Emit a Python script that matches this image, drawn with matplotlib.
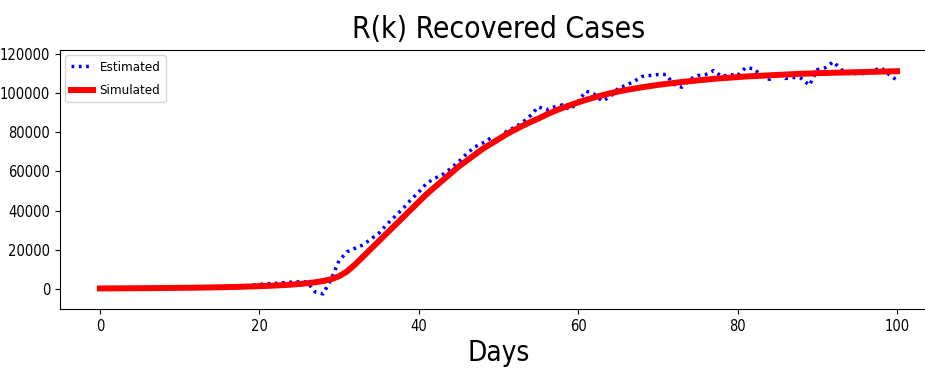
# R(k) recovered cases: estimated vs simulated over 100 days
import numpy as np
import matplotlib.pyplot as plt

plt.rcParams['font.family'] = 'DejaVu Sans'
plt.rcParams['font.stretch'] = 'condensed'

days = np.arange(0, 101)

# estimated recovered cases per day
estimated = [
    500, 450, 550, 500, 600, 550, 650, 700, 650, 800,
    750, 900, 850, 1000, 1100, 1050, 1300, 1400, 1600, 2000,
    2400, 2700, 2900, 3200, 3500, 3700, 3600, -1500, -2500, 5000,
    14500, 19000, 20800, 22500, 25500, 28500, 33000, 37000, 41000, 45500,
    49500, 54000, 56500, 58500, 61500, 65000, 69000, 72500, 74500, 77000,
    75500, 80500, 82500, 85000, 88500, 93000, 91500, 93000, 94000, 91500,
    96000, 101000, 99500, 96000, 98000, 102500, 104000, 106000, 108500, 109000,
    109500, 109500, 104500, 103000, 107000, 109000, 109500, 111500, 108500, 109500,
    109000, 113000, 112500, 109000, 107000, 110500, 107500, 108000, 107500, 104000,
    112000, 113000, 116000, 112000, 110000, 110000, 110000, 111500, 113000, 109500,
    106500,
]

# simulated recovered cases per day
simulated = [
    300, 320, 340, 360, 390, 420, 450, 480, 520, 560,
    600, 650, 700, 760, 820, 900, 980, 1070, 1180, 1300,
    1450, 1600, 1800, 2000, 2250, 2550, 2950, 3450, 4100, 5000,
    6500, 9000, 12500, 16500, 20500, 24500, 28500, 32500, 36500, 40500,
    44500, 48500, 52000, 55500, 59000, 62500, 65500, 68500, 71500, 74000,
    76500, 79000, 81200, 83300, 85200, 87000, 89000, 90800, 92400, 93900,
    95300, 96600, 97800, 98900, 99900, 100800, 101600, 102300, 103000, 103600,
    104200, 104700, 105200, 105700, 106100, 106500, 106900, 107300, 107600, 107900,
    108200, 108500, 108700, 108900, 109100, 109300, 109500, 109700, 109900, 110000,
    110200, 110300, 110400, 110500, 110600, 110700, 110800, 110900, 111000, 111100,
    111200,
]

fig = plt.figure(figsize=(9.25, 3.71), dpi=100)
ax = fig.add_axes([0.0649, 0.1671, 0.948, 0.698])

ax.plot(days, estimated, color='blue', linestyle=(0, (0.8, 1.3)), linewidth=2.5,
        label='Estimated')
ax.plot(days, simulated, color='red', linewidth=4.3, label='Simulated')

ax.set_xlim(-5, 105)
ax.set_ylim(-10200, 122000)
ax.set_yticks([0, 20000, 40000, 60000, 80000, 100000, 120000])
ax.set_xticks([0, 20, 40, 60, 80, 100])
ax.tick_params(labelsize=10.5)

ax.set_title('R(k) Recovered Cases', fontsize=21.5, pad=9)
ax.set_xlabel('Days', fontsize=20)
ax.legend(loc='upper left', fontsize=9.5, handlelength=1.7, labelspacing=0.8,
          handletextpad=0.5, borderaxespad=0.4)

fig.savefig('out.png', dpi=100)
